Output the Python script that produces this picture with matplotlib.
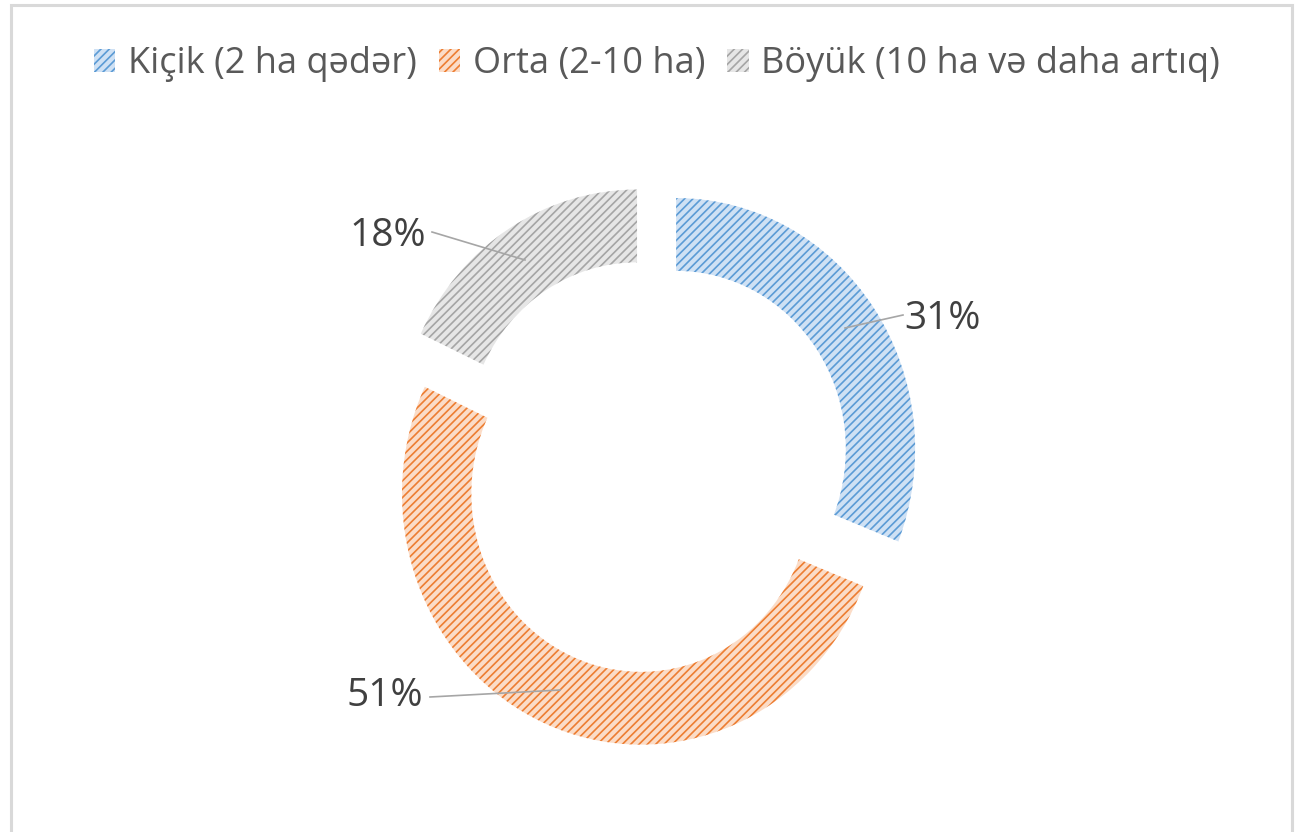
import matplotlib
matplotlib.use("Agg")
import matplotlib.pyplot as plt
from matplotlib.patches import Rectangle, Patch

plt.rcParams['font.family'] = ['Open Sans', 'DejaVu Sans']
plt.rcParams['hatch.linewidth'] = 1.2

categories = ["Kiçik (2 ha qədər)", "Orta (2-10 ha)", "Böyük (10 ha və daha artıq)"]
values = [31, 51, 18]
labels = ["31%", "51%", "18%"]
face_colors = ["#CFE1F4", "#FBDCC7", "#E6E6E6"]
hatch_colors = ["#5B9BD5", "#ED7D31", "#A5A5A5"]

W, H = 1301, 832
fig = plt.figure(figsize=(W / 100, H / 100), dpi=100)

# pixel geometry of the donut (slightly stretched vertically as in the reference)
cx, cy, sx, sy = 652.4, 466.0, 239.0, 251.0
ax = fig.add_axes([0, 0, 1, 1])
wedges, _ = ax.pie(values, startangle=90, counterclock=False, radius=1.0,
                   explode=[0.12] * 3,
                   wedgeprops=dict(width=0.29, linewidth=0))
for w, fc, hc in zip(wedges, face_colors, hatch_colors):
    w.set_facecolor(fc)
    w.set_edgecolor(hc)
    w.set_hatch('////')
    w.set_linewidth(0)
ax.set_aspect('auto')
ax.set_xlim(-cx / sx, (W - cx) / sx)
ax.set_ylim((cy - H) / sy, cy / sy)
ax.axis('off')

def px(x, y):
    return ((x - cx) / sx, (cy - y) / sy)

# data labels with leader lines (pixel anchor positions)
label_pos = [(943, 319), (385, 696), (388, 236)]
leader = [((845, 328), (903, 315)), ((560, 690), (430, 697)), ((525, 260), (432, 232))]
for lab, (lx, ly), (p0, p1) in zip(labels, label_pos, leader):
    a = px(*p0); b = px(*p1)
    ax.plot([a[0], b[0]], [a[1], b[1]], color="#A6A6A6", lw=1.2)
    ax.text(*px(lx, ly), lab, ha='center', va='center', fontsize=28, color="#404040")

# legend
handles = [Patch(facecolor=fc, edgecolor=hc, hatch='////', linewidth=0)
           for fc, hc in zip(face_colors, hatch_colors)]
fig.legend(handles, categories, loc='center', bbox_to_anchor=(657 / W, 1 - 64 / H),
           ncol=3, frameon=False, fontsize=26, labelcolor="#595959",
           handlelength=0.6, handleheight=0.6, handletextpad=0.35, columnspacing=0.6)

# chart border
fig.patches.append(Rectangle((10.5 / W, -0.05), (1292 - 10.5) / W, 1.05 - 5.5 / H,
                             transform=fig.transFigure, fill=False,
                             edgecolor="#D9D9D9", lw=2.2))

fig.savefig("out.png", dpi=100, facecolor="white")
